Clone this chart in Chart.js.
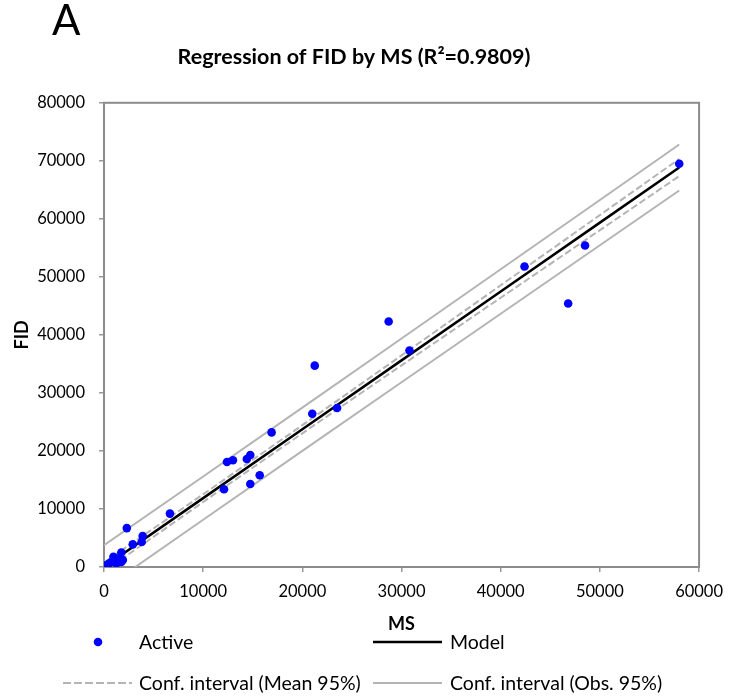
<!DOCTYPE html>
<html lang="en">
<head>
    <meta charset="UTF-8">
    <title>Regression of FID by MS</title>
    <script src="https://cdn.jsdelivr.net/npm/chart.js"></script>
    <style>
        body { margin: 0; background: #fff; font-family: Lato, "Open Sans", sans-serif; }
        #wrap { position: relative; width: 733px; height: 700px; }
        .lbl { position: absolute; font-size: 19.5px; line-height: 22px; color: #000; white-space: nowrap; }
        .mark { position: absolute; }
        #panel { position: absolute; left: 52px; top: -5px; font-size: 42px; line-height: 48px; }
    </style>
</head>
<body>
<div id="wrap">
    <canvas id="regChart" width="733" height="700"></canvas>
    <div id="panel">A</div>
    <svg class="mark" style="left:90px;top:634px" width="16" height="16"><circle cx="8" cy="8" r="4.3" fill="#0000ff"/></svg>
    <div class="lbl" style="left:139px;top:631px">Active</div>
    <svg class="mark" style="left:373px;top:638px" width="70" height="8"><line x1="0" y1="4" x2="69" y2="4" stroke="#000" stroke-width="2.5"/></svg>
    <div class="lbl" style="left:450px;top:631px">Model</div>
    <svg class="mark" style="left:63px;top:679px" width="70" height="8"><line x1="0" y1="4" x2="69" y2="4" stroke="#b4b4b4" stroke-width="2" stroke-dasharray="8,3"/></svg>
    <div class="lbl" style="left:139px;top:672px">Conf. interval (Mean 95%)</div>
    <svg class="mark" style="left:373px;top:679px" width="70" height="8"><line x1="0" y1="4" x2="69" y2="4" stroke="#b4b4b4" stroke-width="2"/></svg>
    <div class="lbl" style="left:450px;top:672px">Conf. interval (Obs. 95%)</div>
</div>
<script>
    // observations (MS, FID)
    const activeMS  = [50, 150, 300, 450, 600, 800, 950, 1100, 1250, 1400, 1500, 1750, 1750, 1900,
                       2300, 2900, 3800, 3900, 6650, 12100, 12400, 13000, 14400, 14750, 14750, 15700,
                       16900, 21000, 21250, 23500, 28700, 30800, 42400, 46800, 48500, 58000];
    const activeFID = [100, 250, 350, 500, 700, 900, 1750, 1300, 600, 1450, 900, 850, 2500, 1200,
                       6700, 3900, 4300, 5350, 9200, 13400, 18100, 18400, 18600, 19300, 14300, 15800,
                       23200, 26400, 34700, 27400, 42300, 37300, 51800, 45400, 55400, 69500];

    // regression line and confidence bands
    const lineMS    = [0, 10000, 20000, 30000, 40000, 50000, 58000];
    const modelFID  = [0, 11870, 23740, 35610, 47480, 59350, 68850];
    const meanUpper = [780, 12530, 24440, 36470, 48550, 60650, 70330];
    const meanLower = [-780, 11210, 23040, 34750, 46410, 58050, 67370];
    const obsUpper  = [3750, 15590, 27470, 39380, 51310, 63250, 72810];
    const obsLower  = [-3750, 8150, 20010, 31840, 43650, 55450, 64890];

    const xTicks = [0, 10000, 20000, 30000, 40000, 50000, 60000];
    const yTicks = [0, 10000, 20000, 30000, 40000, 50000, 60000, 70000, 80000];

    const pts = (xs, ys) => xs.map((x, i) => ({ x: x, y: ys[i] }));

    const axisGray = '#8c8c8c';

    // grey box round the plot area
    const frame = {
        id: 'frame',
        beforeDatasetsDraw(chart) {
            const a = chart.chartArea;
            const ctx = chart.ctx;
            ctx.save();
            ctx.strokeStyle = axisGray;
            ctx.lineWidth = 2;
            ctx.strokeRect(a.left, a.top, a.right - a.left, a.bottom - a.top);
            ctx.restore();
        }
    };

    const lineDs = (label, ys, color, width, dash) => ({
        label: label,
        data: pts(lineMS, ys),
        showLine: true,
        borderColor: color,
        borderWidth: width,
        borderDash: dash,
        pointRadius: 0,
        fill: false,
        tension: 0
    });

    const ctx = document.getElementById('regChart').getContext('2d');
    new Chart(ctx, {
        type: 'scatter',
        data: {
            datasets: [
                {
                    label: 'Active',
                    data: pts(activeMS, activeFID),
                    backgroundColor: '#0000ff',
                    borderColor: '#0000ff',
                    pointRadius: 4.3,
                    pointBorderWidth: 0
                },
                lineDs('Model', modelFID, '#000000', 2.5, []),
                lineDs('Conf. interval (Mean 95%)', meanUpper, '#b4b4b4', 2, [7, 3]),
                lineDs('Conf. interval (Mean 95%)', meanLower, '#b4b4b4', 2, [7, 3]),
                lineDs('Conf. interval (Obs. 95%)', obsUpper, '#b4b4b4', 2, []),
                lineDs('Conf. interval (Obs. 95%)', obsLower, '#b4b4b4', 2, [])
            ]
        },
        options: {
            responsive: false,
            animation: false,
            layout: { padding: { left: 0, right: 25, top: 0, bottom: 0 } },
            plugins: {
                legend: { display: false },
                tooltip: { enabled: false },
                title: {
                    display: true,
                    text: 'Regression of FID by MS (R²=0.9809)',
                    color: '#000',
                    font: { family: 'Lato', size: 21.5, weight: 'bold' },
                    padding: { top: 44, bottom: 33 }
                }
            },
            scales: {
                x: {
                    type: 'linear',
                    min: 0,
                    max: 60000,
                    afterBuildTicks: s => { s.ticks = xTicks.map(v => ({ value: v })); },
                    afterFit: s => { s.height = 133; },
                    grid: { drawOnChartArea: false, drawTicks: true, tickLength: 5, color: '#999', lineWidth: 1.5 },
                    border: { display: false },
                    ticks: {
                        color: '#000', padding: 10, maxRotation: 0,
                        font: { family: 'Lato', size: 16.5 },
                        callback: v => String(v)
                    },
                    title: {
                        display: true,
                        text: 'MS',
                        color: '#000',
                        font: { family: 'Lato', size: 18, weight: 'bold' },
                        padding: { top: 0, bottom: 65 }
                    }
                },
                y: {
                    type: 'linear',
                    min: 0,
                    max: 80000,
                    afterBuildTicks: s => { s.ticks = yTicks.map(v => ({ value: v })); },
                    afterFit: s => { s.width = 104; },
                    grid: { drawOnChartArea: false, drawTicks: true, tickLength: 5, color: '#999', lineWidth: 1.5 },
                    border: { display: false },
                    ticks: {
                        color: '#000', padding: 14,
                        font: { family: 'Lato', size: 16.5 },
                        callback: v => String(v)
                    },
                    title: {
                        display: true,
                        text: 'FID',
                        color: '#000',
                        font: { family: 'Lato', size: 18, weight: 'bold' },
                        padding: { top: 11, bottom: 0 }
                    }
                }
            }
        },
        plugins: [frame]
    });
</script>
</body>
</html>
